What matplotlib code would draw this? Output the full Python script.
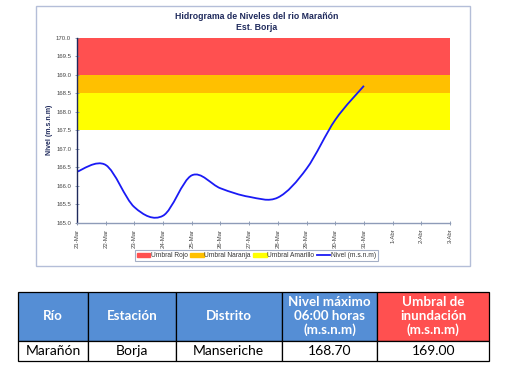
import matplotlib.pyplot as plt
from matplotlib.path import Path
from matplotlib.patches import PathPatch, Patch, Rectangle
from matplotlib.lines import Line2D

# Data
dias = ['21-Mar', '22-Mar', '23-Mar', '24-Mar', '25-Mar', '26-Mar', '27-Mar',
        '28-Mar', '29-Mar', '30-Mar', '31-Mar', '1-Abr', '2-Abr', '3-Abr']
nivel = [166.38, 166.56, 165.42, 165.19, 166.28, 165.93, 165.70,
         165.68, 166.46, 167.78, 168.70]     # Nivel (m.s.n.m)
umbral_amarillo = 167.5
umbral_naranja = 168.5
umbral_rojo = 169.0
nivel_max_eje = 170.0

col_labels = ['Río', 'Estación', 'Distrito', 'Nivel máximo\n06:00 horas\n(m.s.n.m)',
              'Umbral de\ninundación\n(m.s.n.m)']
fila = ['Marañón', 'Borja', 'Manseriche', '168.70', '169.00']

rojo = '#FF5050'
naranja = '#FFC000'
amarillo = '#FFFF00'
azul = '#1A1AF5'
navy = '#1F2A5C'

plt.rcParams['font.family'] = ['Liberation Sans', 'DejaVu Sans']
fig = plt.figure(figsize=(5.19, 3.79), dpi=100)

# chart frame
fig.patches.append(Rectangle((0.0703, 0.2982), 0.8362, 0.686, transform=fig.transFigure,
                             fill=False, edgecolor='#B4BED8', linewidth=1.0))

ax = fig.add_axes([0.1484, 0.4124, 0.7187, 0.4881])
ax.axhspan(umbral_rojo, nivel_max_eje, color=rojo, lw=0)
ax.axhspan(umbral_naranja, umbral_rojo, color=naranja, lw=0)
ax.axhspan(umbral_amarillo, umbral_naranja, color=amarillo, lw=0)

# smoothed line (Excel style bezier through the points)
x = list(range(len(nivel)))
pts = list(zip(x, nivel))
verts = [pts[0]]
codes = [Path.MOVETO]
n = len(pts)
for i in range(n - 1):
    p0 = pts[i - 1] if i > 0 else pts[i]
    p1 = pts[i]
    p2 = pts[i + 1]
    p3 = pts[i + 2] if i + 2 < n else pts[i + 1]
    c1 = (p1[0] + (p2[0] - p0[0]) / 6, p1[1] + (p2[1] - p0[1]) / 6)
    c2 = (p2[0] - (p3[0] - p1[0]) / 6, p2[1] - (p3[1] - p1[1]) / 6)
    verts += [c1, c2, p2]
    codes += [Path.CURVE4] * 3
ax.add_patch(PathPatch(Path(verts, codes), facecolor='none', edgecolor=azul, lw=1.3))

ax.set_xlim(0, len(dias) - 1)
ax.set_ylim(165.0, nivel_max_eje)
ax.set_xticks(range(len(dias)))
ax.set_xticklabels(dias, rotation=90, fontsize=4.3, color='#444444')
ax.set_yticks([165.0 + 0.5 * k for k in range(11)])
ax.set_yticklabels(['%.1f' % (165.0 + 0.5 * k) for k in range(11)], fontsize=4.3, color='#444444')
ax.tick_params(axis='both', length=2.5, width=0.6, direction='inout', colors='#7F8FA8',
               labelcolor='#444444', pad=3)
for s in ['top', 'right']:
    ax.spines[s].set_visible(False)
ax.spines['left'].set_color(navy)
ax.spines['left'].set_linewidth(1.0)
ax.spines['bottom'].set_color('#8E9BB8')
ax.spines['bottom'].set_linewidth(1.0)
ax.set_ylabel('Nivel (m.s.n.m)', fontsize=5, fontweight='bold', color=navy, labelpad=2)

fig.text(0.494, 0.942, 'Hidrograma de Niveles del rio Marañón\nEst. Borja', ha='center',
         va='center', fontsize=6.3, fontweight='bold', color=navy, linespacing=1.2)

handles = [Patch(color=rojo), Patch(color=naranja), Patch(color=amarillo),
           Line2D([], [], color=azul, lw=1.3)]
leg = fig.legend(handles, ['Umbral Rojo', 'Umbral Naranja', 'Umbral Amarillo', 'Nivel (m.s.n.m)'],
                 loc='center', bbox_to_anchor=(0.494, 0.325), ncol=4, fontsize=4.8,
                 frameon=True, fancybox=False, edgecolor='#8E9BB8', handlelength=2.0,
                 handleheight=0.6, handletextpad=0.1, columnspacing=0.4, borderpad=0.3)
leg.get_frame().set_linewidth(0.8)
for t in leg.get_texts():
    t.set_color('#333333')

# table
tax = fig.add_axes([0.0353, 0.0475, 0.9075, 0.1829])
tax.axis('off')
tab = tax.table(cellText=[fila], colLabels=col_labels, loc='center', cellLoc='center',
                colWidths=[0.1486, 0.1856, 0.2251, 0.2030, 0.2378], bbox=[0, 0, 1, 1])
tab.auto_set_font_size(False)
for (r, c), cell in tab.get_celld().items():
    cell.set_edgecolor('black')
    cell.set_linewidth(0.9)
    t = cell.get_text()
    t.set_family(['Lato', 'DejaVu Sans'])
    if r == 0:
        cell.set_height(0.711)
        cell.set_facecolor(rojo if c == 4 else '#558ED5')
        t.set_color('white')
        t.set_fontweight('bold')
        t.set_fontsize(9.6)
        t.set_linespacing(1.15)
    else:
        cell.set_height(0.289)
        cell.set_facecolor('white')
        t.set_fontsize(10)

fig.savefig('out.png', dpi=100)
